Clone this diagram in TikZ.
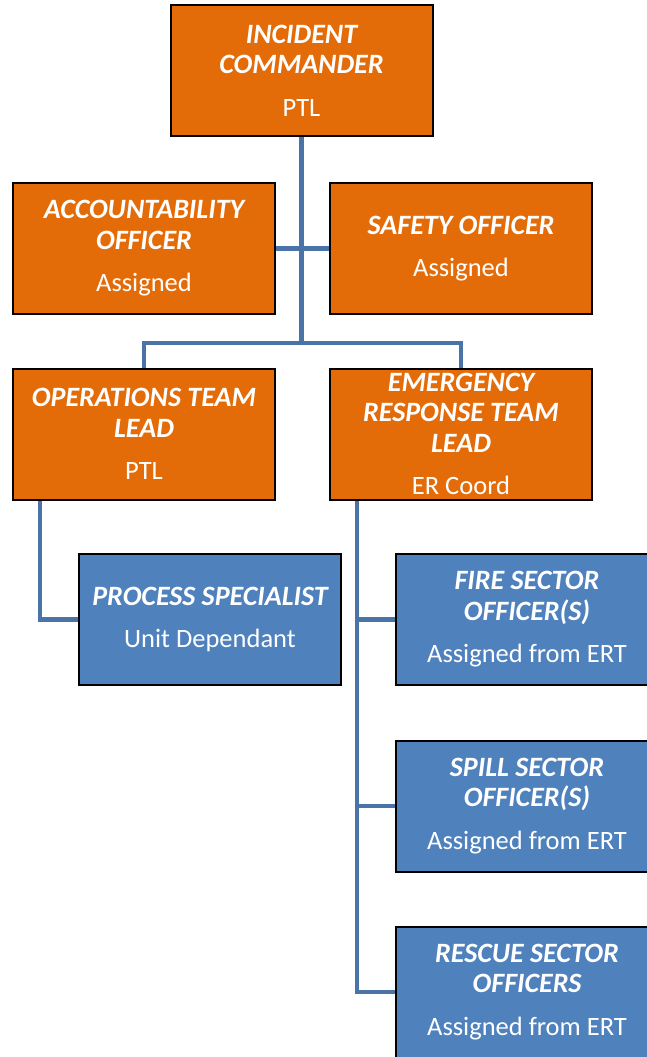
\documentclass[tikz,border=0pt]{standalone}
\usepackage{fontspec}
\setmainfont{Carlito}
\definecolor{org}{HTML}{E36C09}
\definecolor{blu}{HTML}{4F81BD}
\definecolor{lnk}{HTML}{4A74A8}
\newcommand\subt[1]{{\fontsize{26.5}{30}\selectfont\mdseries\upshape #1}}
\begin{document}
\begin{tikzpicture}[x=1pt,y=-1pt,
  box/.style={draw=black, line width=2pt, minimum width=262pt, minimum height=131pt, inner sep=0pt, align=center, text=white, font=\fontsize{28}{30.5}\selectfont\bfseries\itshape},
  obox/.style={box, fill=org},
  bbox/.style={box, fill=blu},
  link/.style={draw=lnk, line width=4.5pt, line join=miter}]
\useasboundingbox (0,0) rectangle (647,1057);
\node[obox] (ic) at (301.5,70.5) {INCIDENT\\COMMANDER\\[12pt]\subt{PTL}};
\node[obox] (acc) at (144,248.5) {ACCOUNTABILITY\\OFFICER\\[12pt]\subt{Assigned}};
\node[obox] (safe) at (461,248.5) {SAFETY OFFICER\\[12pt]\subt{Assigned}};
\node[obox] (ops) at (144,434) {OPERATIONS TEAM\\LEAD\\[12pt]\subt{PTL}};
\node[obox] (ert) at (461,434) {EMERGENCY\\RESPONSE TEAM\\LEAD\\[12pt]\subt{ER Coord}};
\node[bbox] (ps) at (210,619.5) {PROCESS SPECIALIST\\[12pt]\subt{Unit Dependant}};
\node[bbox] (fire) at (527,619.5) {FIRE SECTOR\\OFFICER(S)\\[12pt]\subt{Assigned from ERT}};
\node[bbox] (spill) at (527,806) {SPILL SECTOR\\OFFICER(S)\\[12pt]\subt{Assigned from ERT}};
\node[bbox] (rescue) at (527,992) {RESCUE SECTOR\\OFFICERS\\[12pt]\subt{Assigned from ERT}};
\coordinate (bus) at (301.5,343);
\coordinate (trunk) at (357,0);
\draw[link] (ic.south) -- (bus);
\draw[link] (acc.east) -- (safe.west);
\draw[link] (ops.north) |- (bus) -| (ert.north);
\draw[link] ([xshift=-104pt]ops.south) |- (ps.west);
\draw[link] ([xshift=-104pt]ert.south) |- (rescue.west);
\draw[link] (fire.west) -- (fire.west -| trunk);
\draw[link] (spill.west) -- (spill.west -| trunk);
\end{tikzpicture}
\end{document}
